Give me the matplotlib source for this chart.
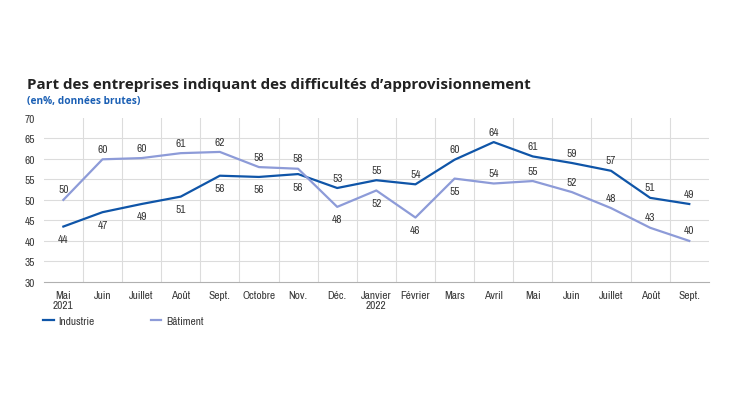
import matplotlib
matplotlib.use("Agg")
import matplotlib.pyplot as plt
from matplotlib.lines import Line2D

months = ["Mai\n2021", "Juin", "Juillet", "Août", "Sept.", "Octobre", "Nov.",
          "Déc.", "Janvier\n2022", "Février", "Mars", "Avril", "Mai", "Juin",
          "Juillet", "Août", "Sept."]
industrie = [43.5, 47.0, 49.0, 50.8, 55.9, 55.6, 56.3, 52.9, 54.8, 53.8,
             59.8, 64.1, 60.6, 59.0, 57.1, 50.5, 49.0]
batiment = [50.0, 59.9, 60.2, 61.4, 61.7, 58.0, 57.6, 48.3, 52.3, 45.7,
            55.2, 54.0, 54.6, 51.9, 48.0, 43.2, 40.0]
industrie_labels = [44, 47, 49, 51, 56, 56, 56, 53, 55, 54, 60, 64, 61, 59, 57, 51, 49]
batiment_labels = [50, 60, 60, 61, 62, 58, 58, 48, 52, 46, 55, 54, 55, 52, 48, 43, 40]
# +1 = label above the point, -1 = below
industrie_pos = [-1] * 7 + [1] * 10
batiment_pos = [1] * 7 + [-1, -1, -1, -1] + [1] * 6

c_ind = "#0f55a8"
c_bat = "#8d9bd8"
c_txt = "#3a3a3a"
font = ["Archivo Narrow", "Liberation Sans", "DejaVu Sans"]
fs = 8.2

fig = plt.figure(figsize=(7.3, 4.1), dpi=100)
ax = fig.add_axes([0.060, 0.310, 0.911, 0.400])

x = list(range(len(months)))
ax.plot(x, industrie, color=c_ind, lw=1.6)
ax.plot(x, batiment, color=c_bat, lw=1.6)


def label_series(vals, labels, pos):
    for xi, v, lab, p in zip(x, vals, labels, pos):
        off = 7.5 if p > 0 else -9
        ax.annotate(str(lab), (xi, v), xytext=(0, off), textcoords="offset points",
                    ha="center", va="center", fontsize=fs, color=c_txt, family=font)


label_series(industrie, industrie_labels, industrie_pos)
label_series(batiment, batiment_labels, batiment_pos)

ax.set_xlim(-0.5, len(months) - 0.5)
ax.set_ylim(30, 70)
ax.set_yticks(range(30, 71, 5))
ax.set_xticks(x)
ax.set_xticklabels(months, family=font, fontsize=fs, color=c_txt,
                   linespacing=1.0)
for t in ax.get_yticklabels():
    t.set_family(font)
    t.set_fontsize(fs)
    t.set_color(c_txt)
ax.tick_params(axis="x", length=0, pad=6)
ax.tick_params(axis="y", length=0, pad=6)

for y in range(35, 70, 5):
    ax.axhline(y, color="#dcdcdc", lw=0.8, zorder=0)
for xb in range(len(months) - 1):
    ax.axvline(xb + 0.5, color="#dcdcdc", lw=0.8, zorder=0)
for s in ["top", "right", "left"]:
    ax.spines[s].set_visible(False)
ax.spines["bottom"].set_color("#b0b0b0")
ax.spines["bottom"].set_linewidth(0.8)

fig.text(0.037, 0.793, "Part des entreprises indiquant des difficultés d’approvisionnement",
         fontsize=10.9, fontweight="bold", color="#222222", family="Open Sans",
         va="center")
fig.text(0.037, 0.752, "(en%, données brutes)", fontsize=7.3, fontweight="bold",
         color="#1a5fb4", family="Open Sans", va="center")

handles = [Line2D([], [], color=c_ind, lw=1.6), Line2D([], [], color=c_bat, lw=1.6)]
leg = fig.legend(handles, ["Industrie", "Bâtiment"], loc="center left",
                 bbox_to_anchor=(0.059, 0.215), ncol=2, frameon=False,
                 borderpad=0, borderaxespad=0,
                 handlelength=0.95, handletextpad=0.4, columnspacing=4.9,
                 prop={"family": font, "size": fs})
for t in leg.get_texts():
    t.set_color(c_txt)

fig.savefig("out.png", dpi=100)
